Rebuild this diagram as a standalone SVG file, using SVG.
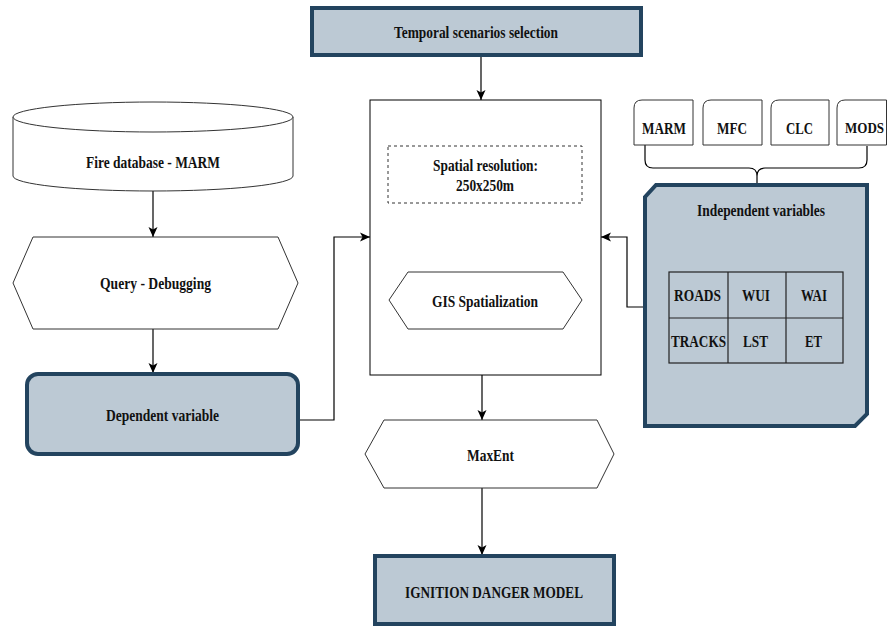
<svg xmlns="http://www.w3.org/2000/svg" width="888" height="627" viewBox="0 0 888 627">
<defs>
<marker id="arr" markerUnits="userSpaceOnUse" markerWidth="12" markerHeight="12" viewBox="0 0 12 12" refX="11" refY="6" orient="auto">
<path d="M1,1.5 L11,6 L1,10.5 L3.5,6 Z" fill="#000"/>
</marker>
</defs>
<style>
text{font-family:"Liberation Serif","Times New Roman",serif;font-weight:bold;font-size:16px;fill:#111;text-anchor:middle;dominant-baseline:central}
.thin{fill:#fff;stroke:#333;stroke-width:1}
.dark{fill:#bcc9d4;stroke:#23445f;stroke-width:4}
.conn{fill:none;stroke:#000;stroke-width:1.2}
</style>
<rect width="888" height="627" fill="#fff"/>
<g id="connectors">
<path class="conn" d="M481,55 L481,100" marker-end="url(#arr)"/>
<path class="conn" d="M482,203 L482,272" marker-end="url(#arr)"/>
<path class="conn" d="M482,375 L482,420" marker-end="url(#arr)"/>
<path class="conn" d="M482,488 L482,555" marker-end="url(#arr)"/>
<path class="conn" d="M153,191 L153,237" marker-end="url(#arr)"/>
<path class="conn" d="M153,329 L153,373" marker-end="url(#arr)"/>
<path class="conn" d="M298,420 L334,420 L334,237 L370,237" marker-end="url(#arr)"/>
<path class="conn" d="M644,307 L627,307 L627,237 L601,237" marker-end="url(#arr)"/>
<path class="conn" d="M645,145 L645,160 Q645,168 653,168 L749,168 Q757,168 757,176 L757,185 M757,176 Q757,168 765,168 L859,168 Q867,168 867,160 L867,146"/>
</g>
<g id="temporal">
<rect class="dark" x="312" y="8" width="329" height="47"/>
<text x="476" y="32" textLength="164" lengthAdjust="spacingAndGlyphs">Temporal scenarios selection</text>
</g>
<g id="central">
<rect x="370" y="100" width="231" height="275" fill="#fff" stroke="#000" stroke-width="1"/>
</g>
<g id="spatial">
<rect x="388" y="146" width="194" height="57" fill="#fff" stroke="#333" stroke-width="1" stroke-dasharray="3,3"/>
<text x="485.5" y="165" textLength="105" lengthAdjust="spacingAndGlyphs">Spatial resolution:</text>
<text x="485" y="185" textLength="58" lengthAdjust="spacingAndGlyphs">250x250m</text>
</g>
<g id="gis">
<polygon class="thin" points="389,300 408,272 563,272 582,300 563,329 408,329"/>
<text x="485" y="301" textLength="106" lengthAdjust="spacingAndGlyphs">GIS Spatialization</text>
</g>
<g id="maxent">
<polygon class="thin" points="365,454 384,420 597,420 614,454 597,488 384,488"/>
<text x="490.5" y="455" textLength="47" lengthAdjust="spacingAndGlyphs">MaxEnt</text>
</g>
<g id="ignition">
<rect class="dark" x="375" y="556" width="239" height="68" stroke-width="3.5"/>
<text x="494" y="592" textLength="178" lengthAdjust="spacingAndGlyphs">IGNITION DANGER MODEL</text>
</g>
<g id="firedb">
<path class="thin" d="M13,117 A140,15 0 0 1 293,117 L293,176 A140,15 0 0 1 13,176 Z"/>
<path class="thin" fill="none" d="M13,117 A140,15 0 0 0 293,117"/>
<text x="153" y="162" textLength="134" lengthAdjust="spacingAndGlyphs">Fire database - MARM</text>
</g>
<g id="query">
<polygon class="thin" points="13,283 33,237 278,237 298,283 278,329 33,329"/>
<text x="155.5" y="283" textLength="111" lengthAdjust="spacingAndGlyphs">Query - Debugging</text>
</g>
<g id="dependent">
<rect class="dark" x="27" y="374" width="271" height="80" rx="11"/>
<text x="162.5" y="415" textLength="113" lengthAdjust="spacingAndGlyphs">Dependent variable</text>
</g>
<g id="src-marm">
<path class="thin" d="M634,145 L634,108 Q634,100 642,100 L693,100 L693,145 Z"/>
<text x="664" y="128" textLength="44" lengthAdjust="spacingAndGlyphs">MARM</text>
</g>
<g id="src-mfc">
<path class="thin" d="M703,145 L703,108 Q703,100 711,100 L762,100 L762,145 Z"/>
<text x="732" y="128" textLength="30" lengthAdjust="spacingAndGlyphs">MFC</text>
</g>
<g id="src-clc">
<path class="thin" d="M771,145 L771,108 Q771,100 779,100 L829,100 L829,145 Z"/>
<text x="799.5" y="128" textLength="27" lengthAdjust="spacingAndGlyphs">CLC</text>
</g>
<g id="src-mods">
<path class="thin" d="M837,145 L837,108 Q837,100 845,100 L886.5,100 L886.5,145 Z"/>
<text x="864.5" y="128" style="font-size:14.5px" textLength="39" lengthAdjust="spacingAndGlyphs">MODS</text>
</g>
<g id="independent">
<polygon class="dark" points="656,185 867,185 867,414 855,426 645,426 645,197"/>
<text x="761" y="210" textLength="128" lengthAdjust="spacingAndGlyphs">Independent variables</text>
<g fill="none" stroke="#222" stroke-width="1.2">
<rect x="669" y="272" width="174" height="91"/>
<line x1="728" y1="272" x2="728" y2="363"/>
<line x1="786" y1="272" x2="786" y2="363"/>
<line x1="669" y1="318" x2="843" y2="318"/>
</g>
<text x="697.5" y="295" textLength="47" lengthAdjust="spacingAndGlyphs">ROADS</text>
<text x="756" y="295" textLength="28" lengthAdjust="spacingAndGlyphs">WUI</text>
<text x="814" y="295" textLength="26" lengthAdjust="spacingAndGlyphs">WAI</text>
<text x="698.5" y="341" textLength="55" lengthAdjust="spacingAndGlyphs">TRACKS</text>
<text x="755.5" y="341" textLength="25" lengthAdjust="spacingAndGlyphs">LST</text>
<text x="813.5" y="341" textLength="17" lengthAdjust="spacingAndGlyphs">ET</text>
</g>
</svg>
